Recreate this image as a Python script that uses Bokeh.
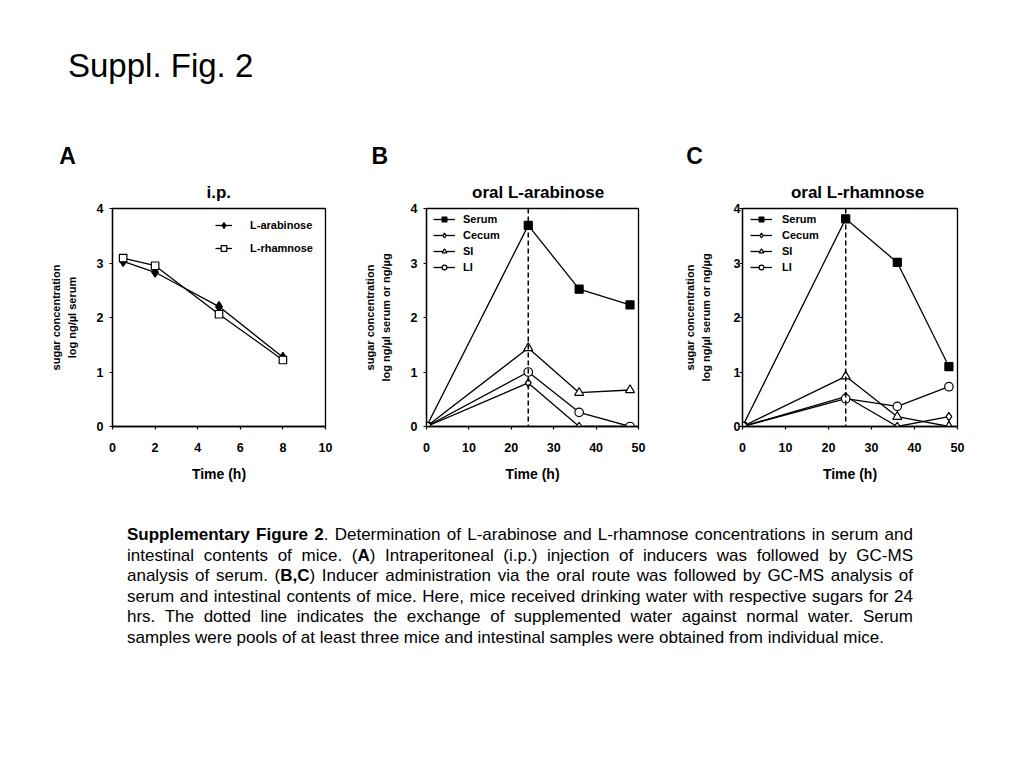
from bokeh.plotting import figure
from bokeh.models import Range1d, FixedTicker, Span, Legend, LegendItem, Div
from bokeh.layouts import column, row
from bokeh.embed import file_html
from bokeh.resources import INLINE

FONT = "Liberation Sans"

# ---------------- data ----------------
page_title = "Suppl. Fig. 2"
panel_letters = ["A", "B", "C"]
panel_titles = ["i.p.", "oral L-arabinose", "oral L-rhamnose"]
x_label = "Time (h)"
y_label_a = "sugar concentration\nlog ng/µl serum"
y_label_bc = "sugar concentration\nlog ng/µl serum or ng/µg"

ip_names = ["L-arabinose", "L-rhamnose"]
ip_time = [0.5, 2, 5, 8]
ip_arabinose = [3.03, 2.83, 2.20, 1.27]
ip_rhamnose = [3.09, 2.95, 2.06, 1.22]

tissue_names = ["Serum", "Cecum", "SI", "LI"]
oral_time = [0, 24, 36, 48]
ara_serum = [0, 3.69, 2.52, 2.23]
ara_cecum = [0, 0.80, 0, 0]
ara_si = [0, 1.44, 0.62, 0.67]
ara_li = [0, 1.00, 0.26, 0]
rha_serum = [0, 3.81, 3.01, 1.10]
rha_cecum = [0, 0.55, 0, 0.18]
rha_si = [0, 0.92, 0.18, 0]
rha_li = [0, 0.51, 0.37, 0.73]

exchange_time = 24
ip_xticks = [0, 2, 4, 6, 8, 10]
oral_xticks = [0, 10, 20, 30, 40, 50]
y_ticks = [0, 1, 2, 3, 4]

caption_lines = [
    "<b>Supplementary Figure 2</b>. Determination of L-arabinose and L-rhamnose concentrations in serum and",
    "intestinal contents of mice. (<b>A</b>) Intraperitoneal (i.p.) injection of inducers was followed by GC-MS",
    "analysis of serum. (<b>B,C</b>) Inducer administration via the oral route was followed by GC-MS analysis of",
    "serum and intestinal contents of mice. Here, mice received drinking water with respective sugars for 24",
    "hrs. The dotted line indicates the exchange of supplemented water against normal water. Serum",
    "samples were pools of at least three mice and intestinal samples were obtained from individual mice.",
]

# marker styles: (marker, size, fill)
STYLES = {
    "L-arabinose": ("diamond", 10, "black"),
    "L-rhamnose": ("square", 7.5, "white"),
    "Serum": ("square", 8, "black"),
    "Cecum": ("diamond", 8.5, "white"),
    "SI": ("triangle", 9, "white"),
    "LI": ("circle", 8.5, "white"),
}


def make_panel(width, border_left, border_right, x_max, x_ticks, y_label,
               tick_standoff, ylabel_standoff, title, title_offset):
    p = figure(width=width, height=330, x_range=Range1d(0, x_max), y_range=Range1d(0, 4),
               output_backend="svg", toolbar_location=None,
               min_border_left=border_left, min_border_right=border_right,
               min_border_top=38, min_border_bottom=74,
               background_fill_color="white", border_fill_color="white")
    p.title.text = title
    p.title.text_font = FONT
    p.title.text_font_style = "bold"
    p.title.text_font_size = "17px"
    p.title.text_color = "black"
    p.title.align = "left"
    p.title.offset = title_offset
    p.title.vertical_align = "top"
    p.title.standoff = 10
    p.xgrid.visible = False
    p.ygrid.visible = False
    p.outline_line_color = "black"
    p.outline_line_width = 1.3
    p.xaxis.ticker = FixedTicker(ticks=x_ticks)
    p.yaxis.ticker = FixedTicker(ticks=y_ticks)
    p.axis.axis_line_color = "black"
    p.axis.axis_line_width = 1.3
    p.axis.major_tick_line_color = "black"
    p.axis.major_tick_line_width = 1.2
    p.axis.major_tick_out = 3
    p.axis.major_tick_in = 0
    p.axis.minor_tick_line_color = None
    p.axis.major_label_text_font = FONT
    p.axis.major_label_text_font_style = "bold"
    p.axis.major_label_text_font_size = "12.5px"
    p.axis.major_label_text_color = "black"
    p.axis.axis_label_text_font = FONT
    p.axis.axis_label_text_font_style = "bold"
    p.axis.axis_label_text_color = "black"
    p.xaxis.axis_label = x_label
    p.xaxis.axis_label_text_font_size = "14px"
    p.xaxis.major_label_standoff = 13
    p.xaxis.axis_label_standoff = 11
    p.yaxis.axis_label = y_label
    p.yaxis.axis_label_text_font_size = "11px"
    p.yaxis.axis_label_text_line_height = 1.27
    p.yaxis.major_label_standoff = tick_standoff
    p.yaxis.axis_label_standoff = ylabel_standoff
    return p


def add_series(p, x, y, name):
    marker, size, fill = STYLES[name]
    ln = p.line(x, y, line_color="black", line_width=1.3)
    sc = p.scatter(x, y, marker=marker, size=size, fill_color=fill,
                   line_color="black", line_width=1.2)
    return LegendItem(label=name, renderers=[ln, sc])


def add_legend(p, items, loc, glyph_w, glyph_h, spacing, standoff):
    lg = Legend(items=items, location=loc, border_line_color=None, background_fill_alpha=0,
                padding=0, margin=0, glyph_width=glyph_w, glyph_height=glyph_h,
                label_height=glyph_h, spacing=spacing, label_standoff=standoff,
                label_text_font=FONT, label_text_font_style="bold",
                label_text_font_size="11px", label_text_color="black")
    p.add_layout(lg, "center")


# Panel A
pa = make_panel(335, 112, 10, 10, ip_xticks, y_label_a, 6, 16, panel_titles[0], 94)
items_a = [add_series(pa, ip_time, ip_arabinose, ip_names[0]),
           add_series(pa, ip_time, ip_rhamnose, ip_names[1])]
add_legend(pa, items_a, (103, 171), 17, 14, 9, 18)

# Panel B
pb = make_panel(313, 91, 10, 50, oral_xticks, y_label_bc, 6, 16, panel_titles[1], 45.5)
pb.add_layout(Span(location=exchange_time, dimension="height", line_color="black",
                   line_width=1.5, line_dash="5 3"))
items_b = [add_series(pb, oral_time, ara_serum, tissue_names[0]),
           add_series(pb, oral_time, ara_cecum, tissue_names[1]),
           add_series(pb, oral_time, ara_si, tissue_names[2]),
           add_series(pb, oral_time, ara_li, tissue_names[3])]
add_legend(pb, items_b, (7, 153.5), 22, 12, 4, 8)

# Panel C
pc = make_panel(339, 94, 30, 50, oral_xticks, y_label_bc, -1, 19, panel_titles[2], 48.4)
pc.add_layout(Span(location=exchange_time, dimension="height", line_color="black",
                   line_width=1.5, line_dash="5 3"))
items_c = [add_series(pc, oral_time, rha_serum, tissue_names[0]),
           add_series(pc, oral_time, rha_cecum, tissue_names[1]),
           add_series(pc, oral_time, rha_si, tissue_names[2]),
           add_series(pc, oral_time, rha_li, tissue_names[3])]
add_legend(pc, items_c, (8, 153.5), 22, 12, 4, 10)

# ---------------- page texts ----------------
letter_left = [59.3, 371.6, 686.3]
letters_html = "".join(
    f'<div style="position:absolute;left:{lx}px;top:144.8px;font-size:23px;line-height:23px;'
    f'font-weight:bold;">{lt}</div>'
    for lt, lx in zip(panel_letters, letter_left))
top_div = Div(
    text=f'<div style="position:relative;width:1000px;height:170px;font-family:\'{FONT}\',Arial,sans-serif;color:black;">'
         f'<div style="position:absolute;left:68px;top:49px;font-size:33px;line-height:33px;white-space:nowrap;">{page_title}</div>'
         + letters_html + '</div>',
    width=1000, height=170, margin=0)

cap_html = []
for i, line in enumerate(caption_lines):
    last = "left" if i == len(caption_lines) - 1 else "justify"
    cap_html.append(f'<div style="text-align:justify;text-align-last:{last};">{line}</div>')
caption_div = Div(
    text=f'<div style="font-family:\'{FONT}\',Arial,sans-serif;font-size:17px;line-height:20.6px;'
         f'width:786px;margin-left:127px;padding-top:25px;color:black;">' + "".join(cap_html) + '</div>',
    width=1000, height=200, margin=0)

page = column(top_div, row(pa, pb, pc), caption_div)

with open("out.html", "w", encoding="utf-8") as f:
    f.write(file_html(page, INLINE))
